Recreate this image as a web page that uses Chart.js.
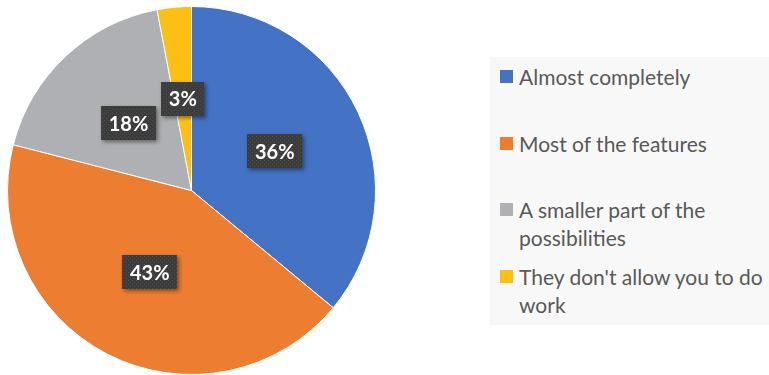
<!DOCTYPE html>
<html lang="en">
<head>
  <meta charset="UTF-8" />
  <title>Pie chart</title>
  <script src="https://cdn.jsdelivr.net/npm/chart.js"></script>
  <style>
    * { box-sizing: border-box; margin: 0; padding: 0; }
    body { width: 769px; height: 375px; background: #fff; font-family: Lato, sans-serif; overflow: hidden; }
    .wrap { position: relative; width: 769px; height: 375px; }
    #legend { position: absolute; left: 490px; top: 57px; width: 279px; height: 268px; background: #f8f8f8; }
    .item { position: absolute; left: 10px; width: 272px; padding-left: 19px; font-size: 21px; line-height: 28px; color: #595959; }
    .item .swatch { position: absolute; left: 0; top: 7px; width: 13px; height: 13px; }
  </style>
</head>
<body>
  <div class="wrap">
    <canvas id="pie" width="769" height="375"></canvas>
    <div id="legend"></div>
  </div>

  <script>
    const categories = ["Almost completely", "Most of the features", "A smaller part of the possibilities", "They don't allow you to do work"];
    const values = [36, 43, 18, 3];
    const colors = ["#4472C4", "#ED7D31", "#AFB0B3", "#FCBF14"];

    // dotted dark fill for the value boxes
    function makePattern(ctx) {
      const c = document.createElement("canvas");
      c.width = 4; c.height = 4;
      const p = c.getContext("2d");
      p.fillStyle = "#3c3c3c";
      p.fillRect(0, 0, 4, 4);
      p.fillStyle = "#4e4e4e";
      p.fillRect(0, 0, 1, 1);
      p.fillRect(2, 2, 1, 1);
      return ctx.createPattern(c, "repeat");
    }

    const valueLabels = {
      id: "valueLabels",
      afterDatasetsDraw(chart) {
        const ctx = chart.ctx;
        const meta = chart.getDatasetMeta(0);
        const pat = makePattern(ctx);
        ctx.save();
        ctx.font = "bold 20px Lato";
        ctx.textAlign = "center";
        ctx.textBaseline = "middle";
        meta.data.forEach((arc, i) => {
          const { x, y } = arc.getCenterPoint();
          const txt = values[i] + "%";
          const w = Math.round(ctx.measureText(txt).width + 15);
          const h = 34;
          ctx.shadowColor = "rgba(0,0,0,0.45)";
          ctx.shadowBlur = 4;
          ctx.shadowOffsetX = 2;
          ctx.shadowOffsetY = 2;
          ctx.fillStyle = pat;
          ctx.fillRect(Math.round(x - w / 2), Math.round(y - h / 2), w, h);
          ctx.shadowColor = "transparent";
          ctx.fillStyle = "#fff";
          ctx.fillText(txt, x, y + 1);
        });
        ctx.restore();
      }
    };

    new Chart(document.getElementById("pie"), {
      type: "pie",
      data: {
        labels: categories,
        datasets: [{
          data: values,
          backgroundColor: colors,
          borderColor: "#fff",
          borderWidth: 1
        }]
      },
      options: {
        responsive: false,
        animation: false,
        devicePixelRatio: 1,
        layout: { padding: { left: 7, top: 6, right: 393, bottom: 0 } },
        plugins: {
          legend: { display: false },
          tooltip: { enabled: false }
        }
      },
      plugins: [valueLabels]
    });

    // legend built from the same arrays
    const legend = document.getElementById("legend");
    categories.forEach((name, i) => {
      const item = document.createElement("div");
      item.className = "item";
      item.style.top = (6 + i * 66.7) + "px";
      const sw = document.createElement("span");
      sw.className = "swatch";
      sw.style.background = colors[i];
      item.appendChild(sw);
      item.appendChild(document.createTextNode(name));
      legend.appendChild(item);
    });
  </script>
</body>
</html>
